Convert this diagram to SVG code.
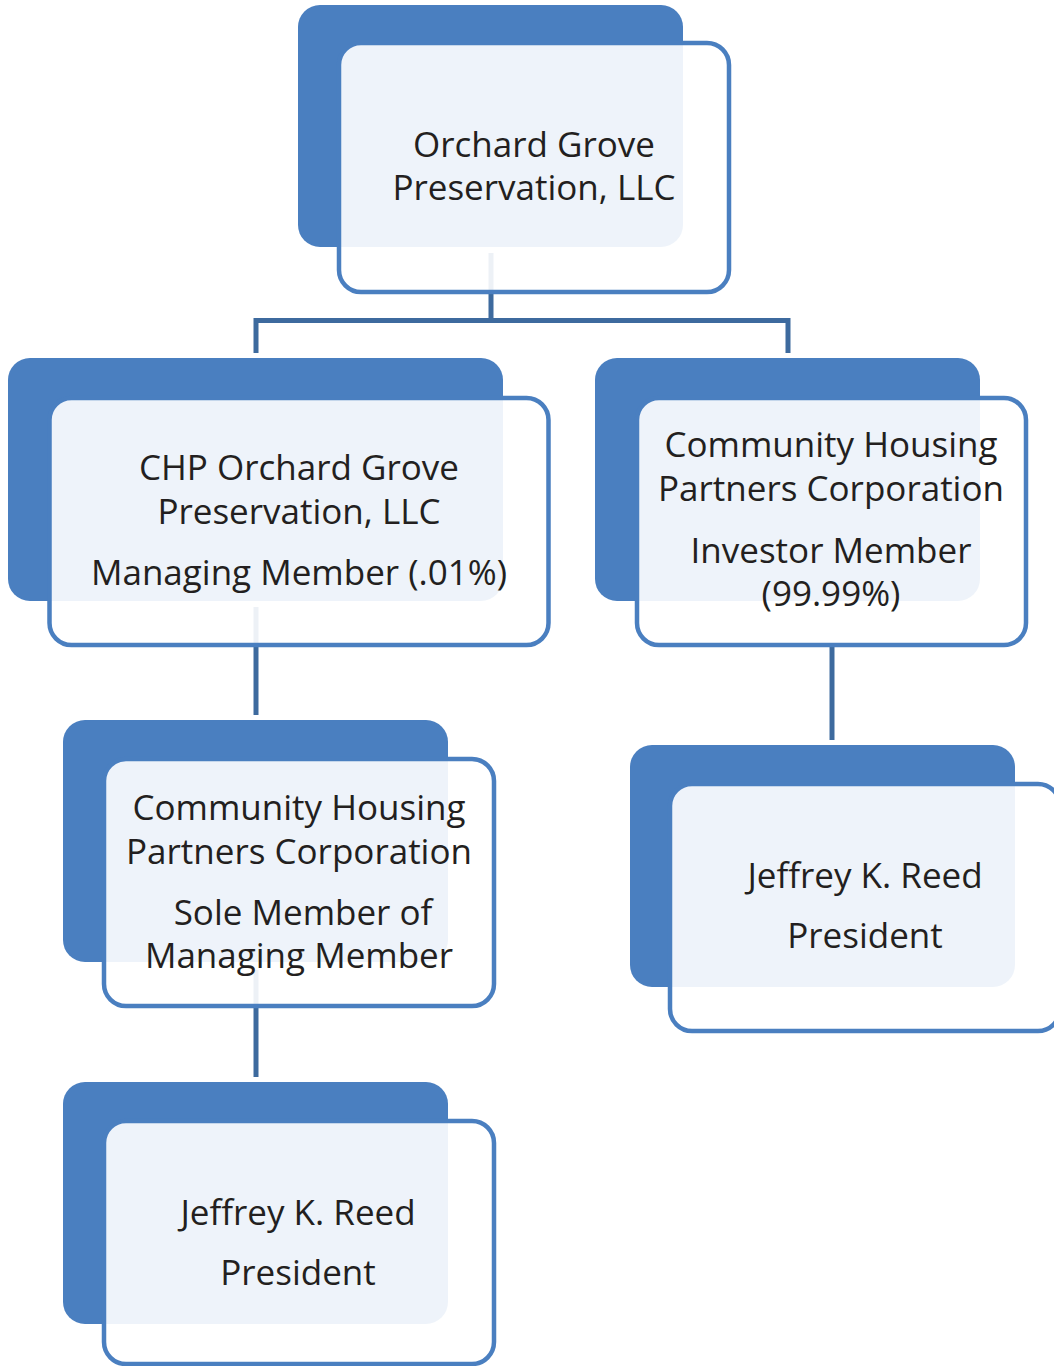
<svg xmlns="http://www.w3.org/2000/svg" width="1054" height="1366" viewBox="0 0 1054 1366">
  <style>
    .back { fill: #4A7FC0; }
    .front { fill: #FFFFFF; fill-opacity: 0.91; stroke: #4A7FC0; stroke-width: 4.5; }
    .link { fill: none; stroke: #3D6A9E; stroke-width: 5; stroke-linejoin: miter; }
    .label { font-family: "Open Sans", "Noto Sans", "Liberation Sans", sans-serif; font-size: 35px; fill: #231F20; text-anchor: middle; }
  </style>
  <rect width="1054" height="1366" fill="#FFFFFF"/>

  <!-- connectors sit underneath the cards -->
  <g id="connectors">
    <path class="link" d="M491,253 V320.5 M256,353 V320.5 H788 V353"/>
    <path class="link" d="M256,607 V715"/>
    <path class="link" d="M832,646 V740"/>
    <path class="link" d="M256,970 V1077"/>
  </g>

  <g id="node-orchard-grove">
    <rect class="back" x="298" y="5" width="385" height="242" rx="22"/>
    <rect class="front" x="339" y="43" width="390" height="249" rx="22"/>
    <text class="label" x="534" y="157">Orchard Grove</text>
    <text class="label" x="534" y="200">Preservation, LLC</text>
  </g>

  <g id="node-chp-orchard-grove">
    <rect class="back" x="8" y="358" width="495" height="243" rx="22"/>
    <rect class="front" x="49.5" y="398" width="499" height="247" rx="22"/>
    <text class="label" x="299" y="480">CHP Orchard Grove</text>
    <text class="label" x="299" y="524">Preservation, LLC</text>
    <text class="label" x="299" y="585">Managing Member (.01%)</text>
  </g>

  <g id="node-chp-investor">
    <rect class="back" x="595" y="358" width="385" height="243" rx="22"/>
    <rect class="front" x="637" y="398" width="389" height="247" rx="22"/>
    <text class="label" x="831" y="457">Community Housing</text>
    <text class="label" x="831" y="501">Partners Corporation</text>
    <text class="label" x="831" y="563">Investor Member</text>
    <text class="label" x="831" y="606">(99.99%)</text>
  </g>

  <g id="node-chp-sole-member">
    <rect class="back" x="63" y="720" width="385" height="242" rx="22"/>
    <rect class="front" x="104" y="759" width="390" height="247" rx="22"/>
    <text class="label" x="299" y="820">Community Housing</text>
    <text class="label" x="299" y="864">Partners Corporation</text>
    <text class="label" x="303" y="925">Sole Member of</text>
    <text class="label" x="299" y="968">Managing Member</text>
  </g>

  <g id="node-reed-right">
    <rect class="back" x="630" y="745" width="385" height="242" rx="22"/>
    <rect class="front" x="670" y="784" width="390" height="247" rx="22"/>
    <text class="label" x="865" y="888">Jeffrey K. Reed</text>
    <text class="label" x="865" y="948">President</text>
  </g>

  <g id="node-reed-left">
    <rect class="back" x="63" y="1082" width="385" height="242" rx="22"/>
    <rect class="front" x="104" y="1121" width="390" height="243" rx="22"/>
    <text class="label" x="298" y="1225">Jeffrey K. Reed</text>
    <text class="label" x="298" y="1285">President</text>
  </g>
</svg>
